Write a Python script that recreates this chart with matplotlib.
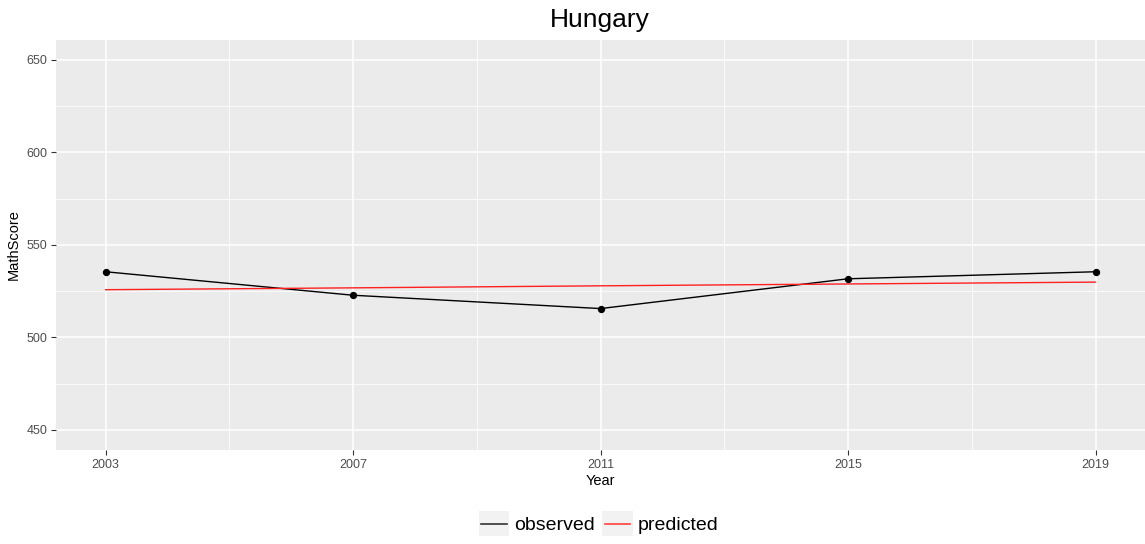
import matplotlib
matplotlib.use("Agg")
from matplotlib import pyplot as plt
from matplotlib.legend_handler import HandlerLine2D
from matplotlib.lines import Line2D
from matplotlib.patches import Rectangle

# data
years = [2003, 2007, 2011, 2015, 2019]
observed = [535.5, 522.8, 515.6, 531.7, 535.5]
predicted = [525.8, 526.8, 527.9, 528.9, 529.9]

yTicks = [450, 500, 550, 600, 650]
yMinor = [475, 525, 575, 625]
xMinor = [2005, 2009, 2013, 2017]

plt.rcParams['font.family'] = ['Liberation Sans', 'DejaVu Sans']


class HandlerKeyBox(HandlerLine2D):
    # ggplot-style legend key: grey box behind the line
    def create_artists(self, legend, orig_handle, xdescent, ydescent, width, height, fontsize, trans):
        box = Rectangle((-xdescent - 2, -ydescent - 4), width + 4, height + 8,
                        facecolor="#F2F2F2", edgecolor="none", transform=trans)
        artists = super().create_artists(legend, orig_handle, xdescent, ydescent, width, height, fontsize, trans)
        return [box] + list(artists)


fig = plt.figure(figsize=(11.45, 5.44), dpi=100)
ax = fig.add_axes([0.049, 0.173, 0.951, 0.7535])
ax.set_facecolor("#EBEBEB")
for s in ax.spines.values():
    s.set_visible(False)

ax.plot(years, observed, color="black", linewidth=1.0, zorder=3)
ax.scatter(years, observed, s=18, color="black", zorder=4)
ax.plot(years, predicted, color="#FF2020", linewidth=1.0, zorder=3)

ax.set_xlim(2002.2, 2019.8)
ax.set_ylim(439.2, 660.8)
ax.set_xticks(years)
ax.set_yticks(yTicks)
ax.set_xticks(xMinor, minor=True)
ax.set_yticks(yMinor, minor=True)
ax.grid(which="major", color="white", linewidth=1.1, zorder=0)
ax.grid(which="minor", color="white", linewidth=0.55, zorder=0)
ax.set_axisbelow(True)
ax.tick_params(which="major", length=3.5, width=0.8, color="#333333",
               labelcolor="#4D4D4D", labelsize=9, pad=3)
ax.tick_params(which="minor", length=0)

ax.set_xlabel("Year", fontsize=10.5, color="black", labelpad=2)
ax.set_ylabel("MathScore", fontsize=10.5, color="black", labelpad=4)
fig.suptitle("Hungary", fontsize=19, x=0.524, y=0.985)

handles = [Line2D([], [], color="#333333", linewidth=1.2),
           Line2D([], [], color="#FF4040", linewidth=1.2)]
fig.legend(handles, ["observed", "predicted"], loc="center", bbox_to_anchor=(0.524, 0.034),
           ncol=2, frameon=False, fontsize=14, handlelength=1.3, handletextpad=0.4,
           columnspacing=0.5, handler_map={Line2D: HandlerKeyBox()})

fig.savefig("out.png", dpi=100)
